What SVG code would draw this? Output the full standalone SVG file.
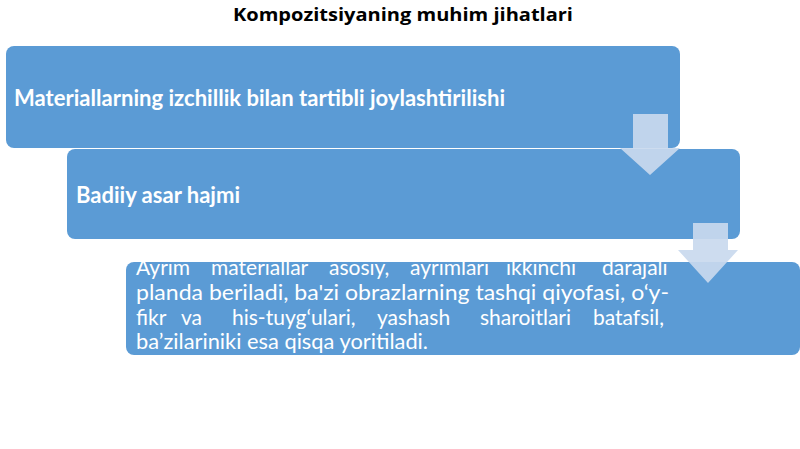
<svg xmlns="http://www.w3.org/2000/svg" width="800" height="449" viewBox="0 0 800 449">
<style>
.box{fill:#5b9bd5;}
.arrow{fill:#c9d9ee;fill-opacity:0.92;}
.t{font-family:Lato,"Open Sans","Liberation Sans",sans-serif;fill:#ffffff;}
.hd{font-weight:bold;font-size:22px;}
.body{font-size:21px;}
.title{font-family:"Open Sans","Noto Sans","Liberation Sans",sans-serif;font-weight:bold;font-size:18px;fill:#000000;}
</style>
<rect width="800" height="449" fill="#ffffff"/>
<text class="title" x="233" y="21" textLength="340" lengthAdjust="spacingAndGlyphs">Kompozitsiyaning muhim jihatlari</text>
<g id="node1">
<rect class="box" x="6" y="46" width="674" height="102" rx="8"/>
<text class="t hd" x="14" y="106" textLength="491" lengthAdjust="spacingAndGlyphs">Materiallarning izchillik bilan tartibli joylashtirilishi</text>
</g>
<g id="node2">
<rect class="box" x="67" y="149" width="673" height="90" rx="8"/>
<text class="t hd" x="76" y="203" textLength="164" lengthAdjust="spacingAndGlyphs">Badiiy asar hajmi</text>
</g>
<g id="node3">
<rect class="box" x="126" y="262" width="674" height="93" rx="8"/>
<text class="t body" y="275"><tspan x="136">Ayrim</tspan><tspan x="211">materiallar</tspan><tspan x="329">asosiy,</tspan><tspan x="410">ayrimlari</tspan><tspan x="506">ikkinchi</tspan><tspan x="602">darajali</tspan></text>
<text class="t body" x="136" y="300" textLength="533" lengthAdjust="spacingAndGlyphs">planda beriladi, ba'zi obrazlarning tashqi qiyofasi, o‘y-</text>
<text class="t body" y="325"><tspan x="136">fikr</tspan><tspan x="181">va</tspan><tspan x="232">his-tuyg‘ulari,</tspan><tspan x="377">yashash</tspan><tspan x="480">sharoitlari</tspan><tspan x="593">batafsil,</tspan></text>
<text class="t body" x="136" y="349" textLength="292" lengthAdjust="spacingAndGlyphs">ba’zilariniki esa qisqa yoritiladi.</text>
</g>
<g id="connectors">
<polygon class="arrow" points="633,114 668,114 668,148 680,148 650,175 620,148 633,148"/>
<polygon class="arrow" points="693,223 728,223 728,250 738,250 708,283 678,250 693,250"/>
</g>
</svg>
